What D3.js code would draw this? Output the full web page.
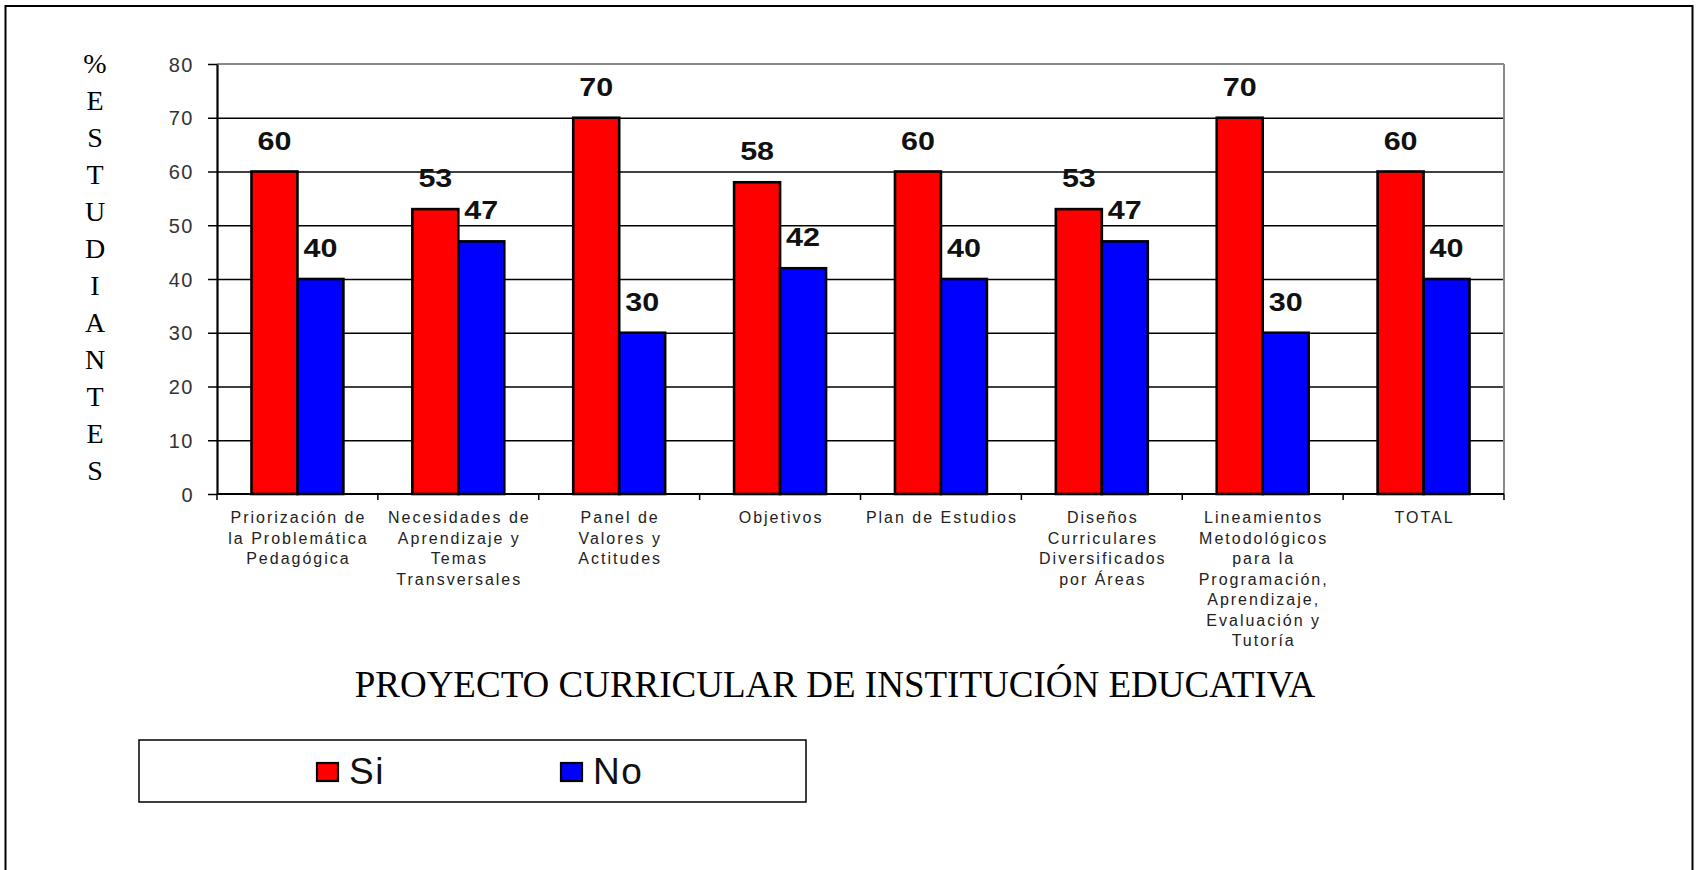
<!DOCTYPE html>
<html>
<head>
<meta charset="utf-8">
<script src="https://cdn.jsdelivr.net/npm/d3@7"></script>
<style>
  html, body { margin: 0; padding: 0; background: #fff; }
  svg { display: block; }
</style>
</head>
<body>
<svg id="chart" width="1699" height="870"></svg>
<script>
// ---------- data ----------
const categories = [
  "Priorización de la Problemática Pedagógica",
  "Necesidades de Aprendizaje y Temas Transversales",
  "Panel de Valores y Actitudes",
  "Objetivos",
  "Plan de Estudios",
  "Diseños Curriculares Diversificados por Áreas",
  "Lineamientos Metodológicos para la Programación, Aprendizaje, Evaluación y Tutoría",
  "TOTAL"
];
const categoryLines = [
  ["Priorización de", "la Problemática", "Pedagógica"],
  ["Necesidades de", "Aprendizaje y", "Temas", "Transversales"],
  ["Panel de", "Valores y", "Actitudes"],
  ["Objetivos"],
  ["Plan de Estudios"],
  ["Diseños", "Curriculares", "Diversificados", "por Áreas"],
  ["Lineamientos", "Metodológicos", "para la", "Programación,", "Aprendizaje,", "Evaluación y", "Tutoría"],
  ["TOTAL"]
];
const seriesNames = ["Si", "No"];
const siValues = [60, 53, 70, 58, 60, 53, 70, 60];
const noValues = [40, 47, 30, 42, 40, 47, 30, 40];
const yTicks = [0, 10, 20, 30, 40, 50, 60, 70, 80];
const yTitle = "%ESTUDIANTES";
const xTitle = "PROYECTO CURRICULAR DE INSTITUCIÓN EDUCATIVA";
const seriesColors = { "Si": "#FF0000", "No": "#0000FF" };

// ---------- layout ----------
const svg = d3.select("#chart");
const plot = { left: 217, right: 1504, top: 64, bottom: 494 };

// outer frame (open at the bottom edge of the picture)
svg.append("rect")
  .attr("x", 5.5).attr("y", 6).attr("width", 1687).attr("height", 900)
  .attr("fill", "none").attr("stroke", "#000").attr("stroke-width", 2);

const x = d3.scaleBand().domain(categories).range([plot.left, plot.right]).paddingInner(0).paddingOuter(0);
const bw = x.bandwidth();
const barW = bw / 3.5; // gap width 150%
const x1 = d3.scaleBand().domain(seriesNames).range([(bw - 2 * barW) / 2, (bw + 2 * barW) / 2]).padding(0);
const y = d3.scaleLinear().domain([0, 80]).range([plot.bottom, plot.top]);

// gridlines
svg.append("g")
  .attr("transform", `translate(${plot.left},0)`)
  .call(d3.axisLeft(y).tickValues(yTicks.filter(t => t > 0 && t < 80)).tickSize(-(plot.right - plot.left)).tickFormat(""))
  .call(g => g.select(".domain").remove())
  .call(g => g.selectAll("line").attr("stroke", "#000").attr("stroke-width", 1.3));

// plot area top/right grey border
svg.append("line").attr("x1", plot.left).attr("x2", plot.right).attr("y1", y(80)).attr("y2", y(80))
  .attr("stroke", "#8a8a8a").attr("stroke-width", 2);
svg.append("line").attr("x1", plot.right).attr("x2", plot.right).attr("y1", y(80)).attr("y2", y(0))
  .attr("stroke", "#8a8a8a").attr("stroke-width", 2);

// bars
const rows = categories.map((c, i) => ({ cat: c, i, vals: [{ s: "Si", v: siValues[i] }, { s: "No", v: noValues[i] }] }));
const grp = svg.append("g").selectAll("g").data(rows).join("g")
  .attr("transform", d => `translate(${x(d.cat)},0)`);
grp.selectAll("rect").data(d => d.vals).join("rect")
  .attr("x", d => x1(d.s))
  .attr("y", d => y(d.v))
  .attr("width", x1.bandwidth())
  .attr("height", d => y(0) - y(d.v))
  .attr("fill", d => seriesColors[d.s])
  .attr("stroke", "#000").attr("stroke-width", 2.6);

// data labels
grp.selectAll("text").data(d => d.vals).join("text")
  .attr("transform", d => `translate(${x1(d.s) + x1.bandwidth() / 2},${y(d.v) - 22}) scale(1.22,1)`)
  .attr("text-anchor", "middle")
  .attr("font-family", "Arial, 'Liberation Sans', sans-serif")
  .attr("font-weight", "bold").attr("font-size", 25).attr("fill", "#111")
  .text(d => d.v);

// y axis
const yAxis = svg.append("g")
  .attr("transform", `translate(${plot.left},0)`)
  .call(d3.axisLeft(y).tickValues(yTicks).tickSize(9).tickPadding(14).tickSizeOuter(0));
yAxis.select(".domain").attr("stroke", "#000").attr("stroke-width", 2.2);
yAxis.selectAll(".tick line").attr("stroke", "#000").attr("stroke-width", 1.5);
yAxis.selectAll(".tick text")
  .attr("font-family", "Arial, 'Liberation Sans', sans-serif")
  .attr("font-size", 20).attr("fill", "#333").attr("letter-spacing", "1.5px")
  .attr("dy", "0.35em");

// x axis
const xAxisG = svg.append("g");
xAxisG.append("line").attr("x1", plot.left).attr("x2", plot.right).attr("y1", y(0)).attr("y2", y(0))
  .attr("stroke", "#000").attr("stroke-width", 2.2);
const boundaries = categories.map(c => x(c)).concat([x.range()[1]]);
xAxisG.selectAll("line.tk").data(boundaries).join("line").attr("class", "tk")
  .attr("x1", d => d).attr("x2", d => d).attr("y1", y(0)).attr("y2", y(0) + 6)
  .attr("stroke", "#000").attr("stroke-width", 1.5);

// category labels
const catText = svg.append("g").selectAll("text").data(categories).join("text")
  .attr("font-family", "Arial, 'Liberation Sans', sans-serif")
  .attr("font-size", 16).attr("fill", "#222").attr("letter-spacing", "2px")
  .attr("text-anchor", "middle");
catText.each(function (c, i) {
  d3.select(this).selectAll("tspan").data(categoryLines[i]).join("tspan")
    .attr("x", x(c) + bw / 2 + 1)
    .attr("y", (d, k) => 523 + k * 20.5)
    .text(d => d);
});

// y title (stacked letters)
svg.append("g").selectAll("text").data(yTitle.split("")).join("text")
  .attr("x", 95).attr("y", (d, i) => 73 + i * 37)
  .attr("text-anchor", "middle")
  .attr("font-family", "'Times New Roman', 'Liberation Serif', serif")
  .attr("font-size", 28).attr("fill", "#000")
  .text(d => d);

// x title
svg.append("text")
  .attr("x", 835).attr("y", 697)
  .attr("text-anchor", "middle")
  .attr("font-family", "'Times New Roman', 'Liberation Serif', serif")
  .attr("font-size", 37).attr("fill", "#000")
  .text(xTitle);

// legend
const legend = svg.append("g");
legend.append("rect").attr("x", 139).attr("y", 740).attr("width", 667).attr("height", 62)
  .attr("fill", "#fff").attr("stroke", "#000").attr("stroke-width", 1.5);
const legendX = d3.scaleOrdinal().domain(seriesNames).range([316, 560]);
const li = legend.selectAll("g").data(seriesNames).join("g")
  .attr("transform", d => `translate(${legendX(d)},0)`);
li.append("rect").attr("x", 1).attr("y", 763).attr("width", 21).attr("height", 18)
  .attr("fill", d => seriesColors[d]).attr("stroke", "#000").attr("stroke-width", 2.2);
li.append("text").attr("x", 33).attr("y", 784)
  .attr("font-family", "Arial, 'Liberation Sans', sans-serif")
  .attr("font-size", 37).attr("fill", "#111").attr("letter-spacing", "1.5px")
  .text(d => d);
</script>
</body>
</html>
